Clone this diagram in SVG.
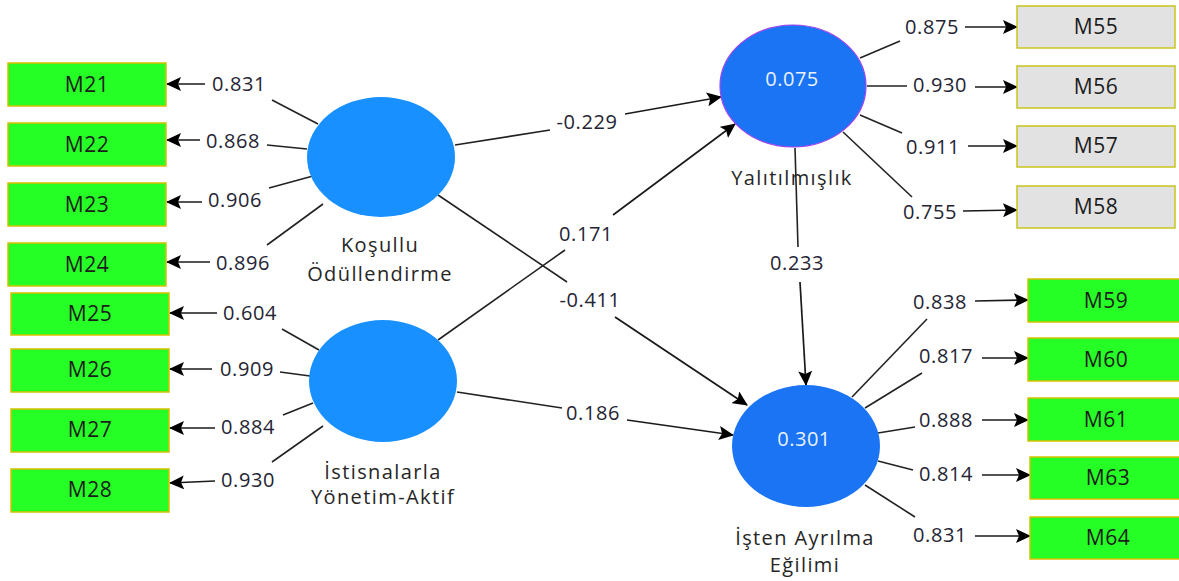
<svg xmlns="http://www.w3.org/2000/svg" width="1179" height="581" viewBox="0 0 1179 581">
  <defs>
    <marker id="arrow" viewBox="0 0 15 14" refX="14" refY="7" markerWidth="15" markerHeight="14" markerUnits="userSpaceOnUse" orient="auto">
      <path d="M0,0 L15,7 L0,14 L3,7 z" fill="#000"/>
    </marker>
    <style>
      .bg { fill: #ffffff; }
      .ind { fill: #26ff26; stroke: #d6c000; stroke-width: 1.5; }
      .ind2 { fill: #e2e2e2; stroke: #c8c41c; stroke-width: 1.5; }
      .lv1 { fill: #1890ff; }
      .lv2 { fill: #1a74f4; }
      .lv2b { fill: #1a74f4; stroke: #a040f0; stroke-width: 1.2; }
      .boxtxt { font-family: "Open Sans", "Noto Sans", sans-serif; font-size: 21px; fill: #1c1c1c; text-anchor: middle; letter-spacing: 0.6px; }
      .lbl { font-family: "Open Sans", "Noto Sans", sans-serif; font-size: 20px; fill: #242434; text-anchor: middle; letter-spacing: 0.6px; }
      .name { font-family: "Open Sans", "Noto Sans", sans-serif; font-size: 20px; fill: #262626; text-anchor: middle; letter-spacing: 1.4px; }
      .r2 { font-family: "Open Sans", "Noto Sans", sans-serif; font-size: 20px; fill: #eaf2ff; text-anchor: middle; letter-spacing: 0.5px; }
      .ln { stroke: #222222; stroke-width: 1.6; fill: none; }
      .ar { stroke: #1a1a1a; stroke-width: 1.7; fill: none; marker-end: url(#arrow); }
    </style>
  </defs>

  <rect class="bg" x="0" y="0" width="1179" height="581"/>

  <!-- connectors: structural paths and outer loadings -->
  <g id="connectors">
    <!-- structural paths, each broken around its coefficient -->
    <line class="ln" x1="455" y1="145" x2="550" y2="130"/>
    <line class="ar" x1="625" y1="114" x2="721" y2="97"/>
    <line class="ln" x1="438" y1="195" x2="567" y2="282"/>
    <line class="ar" x1="615" y1="317" x2="747" y2="405"/>
    <line class="ln" x1="438" y1="340" x2="565" y2="250"/>
    <line class="ar" x1="613" y1="215" x2="735" y2="124"/>
    <line class="ln" x1="457" y1="392" x2="562" y2="408"/>
    <line class="ar" x1="627" y1="420" x2="733" y2="435"/>
    <line class="ln" x1="795" y1="148" x2="798" y2="247"/>
    <line class="ar" x1="800" y1="282" x2="806" y2="385"/>

    <!-- Koşullu Ödüllendirme loadings -->
    <line class="ln" x1="318" y1="124" x2="272" y2="100"/>
    <line class="ar" x1="205" y1="84" x2="167" y2="84"/>
    <line class="ln" x1="307" y1="149" x2="267" y2="145"/>
    <line class="ar" x1="200" y1="140" x2="167" y2="140"/>
    <line class="ln" x1="313" y1="176" x2="269" y2="188"/>
    <line class="ar" x1="202" y1="202" x2="167" y2="202"/>
    <line class="ln" x1="323" y1="204" x2="267" y2="245"/>
    <line class="ar" x1="210" y1="262" x2="167" y2="262"/>

    <!-- İstisnalarla Yönetim-Aktif loadings -->
    <line class="ln" x1="319" y1="350" x2="282" y2="329"/>
    <line class="ar" x1="217" y1="313" x2="170" y2="313"/>
    <line class="ln" x1="310" y1="376" x2="280" y2="372"/>
    <line class="ar" x1="212" y1="369" x2="170" y2="369"/>
    <line class="ln" x1="313" y1="403" x2="283" y2="415"/>
    <line class="ar" x1="215" y1="428" x2="170" y2="428"/>
    <line class="ln" x1="323" y1="426" x2="272" y2="462"/>
    <line class="ar" x1="215" y1="481" x2="170" y2="483"/>

    <!-- Yalıtılmışlık loadings -->
    <line class="ln" x1="860" y1="58" x2="900" y2="41"/>
    <line class="ar" x1="965" y1="27" x2="1017" y2="27"/>
    <line class="ln" x1="867" y1="86" x2="907" y2="86"/>
    <line class="ar" x1="975" y1="87" x2="1017" y2="87"/>
    <line class="ln" x1="860" y1="115" x2="902" y2="133"/>
    <line class="ar" x1="968" y1="146" x2="1017" y2="146"/>
    <line class="ln" x1="843" y1="132" x2="912" y2="197"/>
    <line class="ar" x1="963" y1="211" x2="1017" y2="210"/>

    <!-- İşten Ayrılma Eğilimi loadings -->
    <line class="ln" x1="852" y1="397" x2="927" y2="319"/>
    <line class="ar" x1="975" y1="301" x2="1028" y2="300"/>
    <line class="ln" x1="865" y1="408" x2="922" y2="373"/>
    <line class="ar" x1="982" y1="358" x2="1028" y2="358"/>
    <line class="ln" x1="878" y1="433" x2="915" y2="427"/>
    <line class="ar" x1="982" y1="420" x2="1028" y2="420"/>
    <line class="ln" x1="878" y1="461" x2="913" y2="470"/>
    <line class="ar" x1="982" y1="475" x2="1030" y2="475"/>
    <line class="ln" x1="865" y1="485" x2="915" y2="517"/>
    <line class="ar" x1="975" y1="536" x2="1030" y2="536"/>

    <!-- coefficient labels -->
    <text class="lbl" x="587" y="129">-0.229</text>
    <text class="lbl" x="590" y="307">-0.411</text>
    <text class="lbl" x="586" y="241">0.171</text>
    <text class="lbl" x="593" y="420">0.186</text>
    <text class="lbl" x="797" y="270">0.233</text>

    <text class="lbl" x="239" y="91">0.831</text>
    <text class="lbl" x="233" y="148">0.868</text>
    <text class="lbl" x="235" y="207">0.906</text>
    <text class="lbl" x="243" y="270">0.896</text>
    <text class="lbl" x="250" y="320">0.604</text>
    <text class="lbl" x="247" y="376">0.909</text>
    <text class="lbl" x="248" y="434">0.884</text>
    <text class="lbl" x="248" y="487">0.930</text>

    <text class="lbl" x="932" y="34">0.875</text>
    <text class="lbl" x="940" y="92">0.930</text>
    <text class="lbl" x="933" y="154">0.911</text>
    <text class="lbl" x="930" y="219">0.755</text>

    <text class="lbl" x="940" y="309">0.838</text>
    <text class="lbl" x="946" y="363">0.817</text>
    <text class="lbl" x="946" y="427">0.888</text>
    <text class="lbl" x="946" y="481">0.814</text>
    <text class="lbl" x="940" y="542">0.831</text>
  </g>

  <!-- latent variables -->
  <g id="kosullu-odullendirme">
    <ellipse class="lv1" cx="381" cy="157" rx="74" ry="60"/>
    <text class="name" x="380" y="252">Koşullu</text>
    <text class="name" x="380" y="281">Ödüllendirme</text>
  </g>
  <g id="istisnalarla-yonetim-aktif">
    <ellipse class="lv1" cx="383" cy="381" rx="74" ry="61"/>
    <text class="name" x="383" y="479">İstisnalarla</text>
    <text class="name" x="383" y="504">Yönetim-Aktif</text>
  </g>
  <g id="yalitilmislik">
    <ellipse class="lv2b" cx="793" cy="86" rx="73" ry="61"/>
    <text class="r2" x="792" y="86">0.075</text>
    <text class="name" x="792" y="185">Yalıtılmışlık</text>
  </g>
  <g id="isten-ayrilma-egilimi">
    <ellipse class="lv2" cx="806" cy="446" rx="74" ry="61"/>
    <text class="r2" x="804" y="446">0.301</text>
    <text class="name" x="805" y="545">İşten Ayrılma</text>
    <text class="name" x="805" y="572">Eğilimi</text>
  </g>

  <!-- indicators -->
  <g id="M21"><rect class="ind" x="8" y="63" width="158" height="43"/><text class="boxtxt" x="87" y="92">M21</text></g>
  <g id="M22"><rect class="ind" x="8" y="123" width="158" height="43"/><text class="boxtxt" x="87" y="152">M22</text></g>
  <g id="M23"><rect class="ind" x="8" y="183" width="158" height="43"/><text class="boxtxt" x="87" y="212">M23</text></g>
  <g id="M24"><rect class="ind" x="8" y="243" width="158" height="43"/><text class="boxtxt" x="87" y="272">M24</text></g>
  <g id="M25"><rect class="ind" x="11" y="293" width="158" height="42"/><text class="boxtxt" x="90" y="321">M25</text></g>
  <g id="M26"><rect class="ind" x="11" y="349" width="158" height="43"/><text class="boxtxt" x="90" y="377">M26</text></g>
  <g id="M27"><rect class="ind" x="11" y="409" width="158" height="43"/><text class="boxtxt" x="90" y="437">M27</text></g>
  <g id="M28"><rect class="ind" x="11" y="469" width="158" height="43"/><text class="boxtxt" x="90" y="497">M28</text></g>

  <g id="M55"><rect class="ind2" x="1017" y="6" width="158" height="42"/><text class="boxtxt" x="1096" y="34">M55</text></g>
  <g id="M56"><rect class="ind2" x="1017" y="66" width="158" height="42"/><text class="boxtxt" x="1096" y="94">M56</text></g>
  <g id="M57"><rect class="ind2" x="1017" y="126" width="158" height="41"/><text class="boxtxt" x="1096" y="153">M57</text></g>
  <g id="M58"><rect class="ind2" x="1017" y="186" width="158" height="42"/><text class="boxtxt" x="1096" y="214">M58</text></g>

  <g id="M59"><rect class="ind" x="1028" y="279" width="155" height="43"/><text class="boxtxt" x="1106" y="308">M59</text></g>
  <g id="M60"><rect class="ind" x="1028" y="338" width="155" height="43"/><text class="boxtxt" x="1106" y="367">M60</text></g>
  <g id="M61"><rect class="ind" x="1028" y="398" width="155" height="43"/><text class="boxtxt" x="1106" y="427">M61</text></g>
  <g id="M63"><rect class="ind" x="1030" y="457" width="153" height="42"/><text class="boxtxt" x="1108" y="485">M63</text></g>
  <g id="M64"><rect class="ind" x="1030" y="517" width="153" height="42"/><text class="boxtxt" x="1108" y="545">M64</text></g>
</svg>
